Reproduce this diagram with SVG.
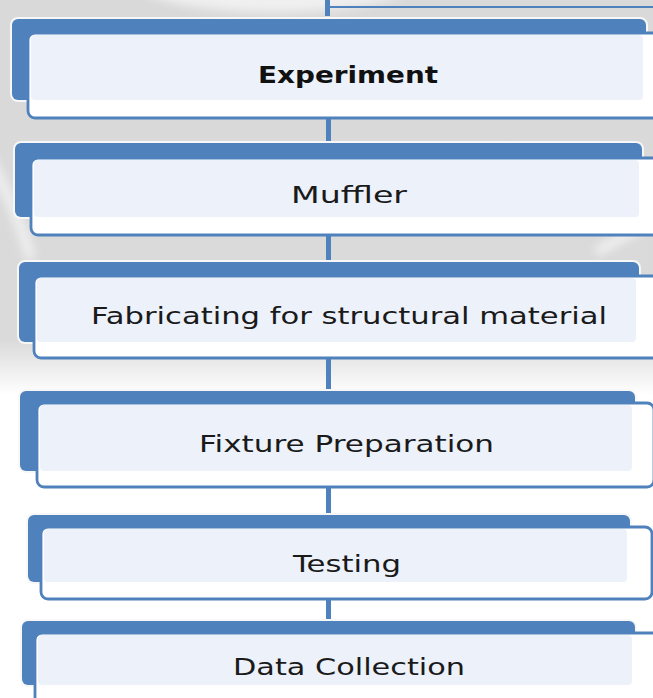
<svg xmlns="http://www.w3.org/2000/svg" width="653" height="698" viewBox="0 0 653 698">
  <defs>
    <linearGradient id="bgFade" x1="0" y1="0" x2="0" y2="1">
      <stop offset="0" stop-color="#d9d9d9"/>
      <stop offset="0.86" stop-color="#dadada"/>
      <stop offset="1" stop-color="#ffffff"/>
    </linearGradient>
    <filter id="soft" x="-20%" y="-20%" width="140%" height="140%">
      <feGaussianBlur stdDeviation="5"/>
    </filter>
    <style>
      .back { fill: #4f81bd; stroke: #f7f7f7; stroke-width: 4; paint-order: stroke; }
      .front { fill: #ffffff; stroke: #4f81bd; stroke-width: 2.8; }
      .tint { fill: #ecf1fa; }
      .link { stroke: #4f81bd; stroke-width: 5; fill: none; }
      .label { font-family: "DejaVu Sans", Verdana, sans-serif; font-size: 23px; fill: #1a1a1a; }
      .bold { font-weight: bold; font-size: 23px; fill: #111111; }
    </style>
  </defs>

  <!-- page background with faint watermark swooshes -->
  <rect x="0" y="0" width="653" height="698" fill="#ffffff"/>
  <rect x="0" y="0" width="653" height="395" fill="url(#bgFade)"/>
  <g fill="none" stroke="#ffffff" stroke-linecap="round" filter="url(#soft)" opacity="0.6">
    <ellipse cx="275" cy="-18" rx="140" ry="30" fill="#ffffff" stroke="none"/>
    <path d="M-10 160 Q 15 205 30 255" stroke-width="10"/>
    <path d="M600 250 Q 630 232 660 218" stroke-width="10"/>
  </g>

  <!-- connectors -->
  <g id="connectors">
    <path class="link" d="M327.5 0 V16"/>
    <path d="M328 7 H653" stroke="#4f81bd" stroke-width="2" fill="none"/>
    <path class="link" d="M328.5 116 V145"/>
    <path class="link" d="M328.5 233 V264"/>
    <path class="link" d="M328.5 357 V393"/>
    <path class="link" d="M328.5 486 V517"/>
    <path class="link" d="M328.5 598 V623"/>
  </g>

  <g id="experiment">
    <rect class="back" x="12" y="19" width="634" height="81" rx="6"/>
    <rect class="front" x="28" y="33" width="650" height="85" rx="7"/>
    <rect class="tint" x="31" y="35" width="612" height="65" rx="4"/>
    <text class="label bold" x="258" y="83" textLength="180" lengthAdjust="spacingAndGlyphs">Experiment</text>
  </g>

  <g id="muffler">
    <rect class="back" x="15" y="143" width="627" height="74" rx="6"/>
    <rect class="front" x="31" y="158" width="650" height="77" rx="7"/>
    <rect class="tint" x="34" y="160" width="605" height="57" rx="4"/>
    <text class="label" x="291" y="203" textLength="116" lengthAdjust="spacingAndGlyphs">Muffler</text>
  </g>

  <g id="fabricating">
    <rect class="back" x="19" y="262" width="620" height="80" rx="6"/>
    <rect class="front" x="34" y="276" width="650" height="82" rx="7"/>
    <rect class="tint" x="37" y="278" width="599" height="64" rx="4"/>
    <text class="label" x="91" y="324" textLength="516" lengthAdjust="spacingAndGlyphs">Fabricating for structural material</text>
  </g>

  <g id="fixture">
    <rect class="back" x="20" y="391" width="615" height="80" rx="6"/>
    <rect class="front" x="37" y="403" width="617" height="84" rx="7"/>
    <rect class="tint" x="40" y="405" width="592" height="66" rx="4"/>
    <text class="label" x="199" y="452" textLength="295" lengthAdjust="spacingAndGlyphs">Fixture Preparation</text>
  </g>

  <g id="testing">
    <rect class="back" x="28" y="515" width="602" height="67" rx="6"/>
    <rect class="front" x="41" y="527" width="611" height="72" rx="7"/>
    <rect class="tint" x="44" y="529" width="583" height="53" rx="4"/>
    <text class="label" x="293" y="572" textLength="108" lengthAdjust="spacingAndGlyphs">Testing</text>
  </g>

  <g id="data-collection">
    <rect class="back" x="22" y="621" width="613" height="64" rx="6"/>
    <rect class="front" x="35" y="633" width="650" height="80" rx="7"/>
    <rect class="tint" x="38" y="635" width="594" height="50" rx="4"/>
    <text class="label" x="233" y="675" textLength="232" lengthAdjust="spacingAndGlyphs">Data Collection</text>
  </g>
</svg>
